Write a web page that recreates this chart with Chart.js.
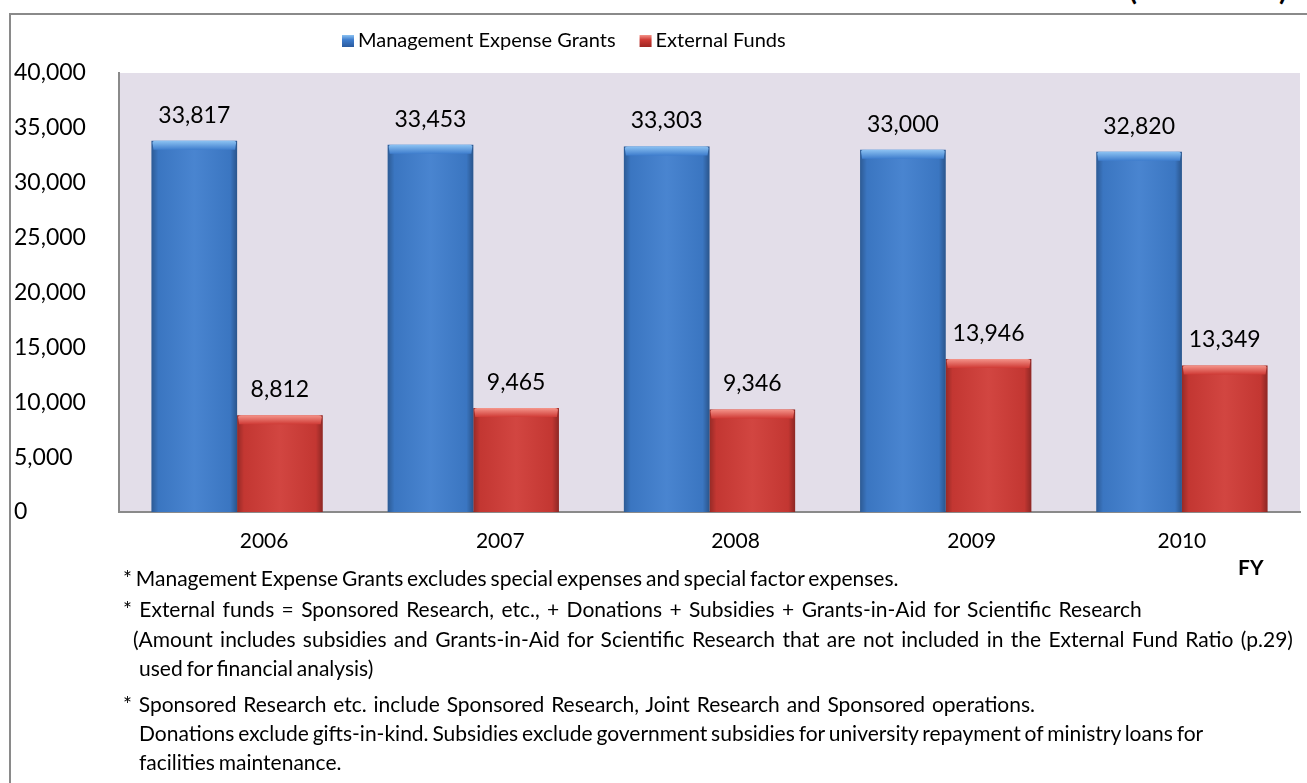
<!DOCTYPE html>
<html>
<head>
<meta charset="utf-8">
<script src="https://cdn.jsdelivr.net/npm/chart.js@4.4.1/dist/chart.umd.min.js"></script>
<style>
  html, body { margin: 0; padding: 0; background: #fff; width: 1307px; height: 783px; overflow: hidden; }
  #wrap { position: relative; width: 1307px; height: 783px; }
  #c { position: absolute; left: 0; top: 0; }
  .frameTop { position: absolute; left: 9px; top: 13px; width: 1298px; height: 2px; background: #8a8a8a; }
  .frameLeft { position: absolute; left: 9px; top: 13px; width: 2px; height: 770px; background: #8a8a8a; }
  .unit { position: absolute; right: 20px; top: -26px; font: bold 29px Lato, sans-serif; line-height: 30px; color: #000; }
  .note { position: absolute; font: 21px Lato, sans-serif; color: #000; white-space: nowrap; line-height: 1; }
  .fy { position: absolute; left: 1238px; top: 554px; font: bold 21px Lato, sans-serif; color: #000; }
</style>
</head>
<body>
<div id="wrap">
  <div class="unit">(Million Yen)</div>
  <div class="frameTop"></div>
  <div class="frameLeft"></div>
  <canvas id="c" width="1307" height="783"></canvas>
  <div class="fy">FY</div>
  <div class="note" data-right="812" style="left:123px; top:567px;">* Management Expense Grants excludes special expenses and special factor expenses.</div>
  <div class="note" data-right="1153" style="left:123px; top:598px;">* External funds = Sponsored Research, etc., + Donations + Subsidies + Grants-in-Aid for Scientific Research</div>
  <div class="note" data-right="1293" style="left:133px; top:628px;">(Amount includes subsidies and Grants-in-Aid for Scientific Research that are not included in the External Fund Ratio (p.29)</div>
  <div class="note" data-right="350" style="left:139px; top:657px;">used for financial analysis)</div>
  <div class="note" data-right="1035" style="left:123px; top:693px;">* Sponsored Research etc. include Sponsored Research, Joint Research and Sponsored operations.</div>
  <div class="note" data-right="1197" style="left:139px; top:722px;">Donations exclude gifts-in-kind. Subsidies exclude government subsidies for university repayment of ministry loans for</div>
  <div class="note" data-right="330" style="left:139px; top:751px;">facilities maintenance.</div>
</div>
<script>
// ---- data ----
const categories = ['2006', '2007', '2008', '2009', '2010'];
const managementExpenseGrants = [33817, 33453, 33303, 33000, 32820];
const externalFunds = [8812, 9465, 9346, 13946, 13349];
const seriesNames = ['Management Expense Grants', 'External Funds'];
const yMin = 0, yMax = 40000, yStep = 5000;

// ---- styles ----
const palette = [
  { base: '#3e7dcd', dark: '#2a5a9e', light: '#8cc2f2' },
  { base: '#cf3a35', dark: '#9e2622', light: '#f4948a' }
];
const FONT = 'Lato, "Open Sans", sans-serif';
const fmt = v => v.toLocaleString('en-US');

const plotBg = {
  id: 'plotBg',
  beforeDraw(chart) {
    const { ctx, chartArea: a } = chart;
    ctx.save();
    ctx.fillStyle = '#e3dee9';
    ctx.fillRect(a.left, a.top, a.right - a.left, a.bottom - a.top);
    ctx.restore();
  }
};

const barShade = {
  id: 'barShade',
  afterDatasetsDraw(chart) {
    const { ctx } = chart;
    chart.data.datasets.forEach((ds, di) => {
      const meta = chart.getDatasetMeta(di);
      const p = palette[di];
      meta.data.forEach(bar => {
        const l = bar.x - bar.width / 2, w = bar.width;
        const t = bar.y, h = bar.base - bar.y;
        ctx.save();
        const g = ctx.createLinearGradient(l, 0, l + w, 0);
        g.addColorStop(0, 'rgba(0,0,0,0.28)');
        g.addColorStop(0.08, 'rgba(0,0,0,0.06)');
        g.addColorStop(0.5, 'rgba(255,255,255,0.06)');
        g.addColorStop(0.92, 'rgba(0,0,0,0.06)');
        g.addColorStop(1, 'rgba(0,0,0,0.32)');
        ctx.fillStyle = g;
        ctx.fillRect(l, t, w, h);
        const capH = 9;
        const g2 = ctx.createLinearGradient(0, t, 0, t + capH);
        g2.addColorStop(0, p.light);
        g2.addColorStop(1, p.base);
        ctx.fillStyle = g2;
        ctx.beginPath();
        ctx.moveTo(l + 2, t + capH);
        ctx.lineTo(l + 1, t + 2);
        ctx.quadraticCurveTo(l + 1, t, l + 4, t);
        ctx.lineTo(l + w - 4, t);
        ctx.quadraticCurveTo(l + w - 1, t, l + w - 1, t + 2);
        ctx.lineTo(l + w - 2, t + capH);
        ctx.closePath();
        ctx.fill();
        ctx.restore();
      });
    });
  }
};

const valueLabels = {
  id: 'valueLabels',
  afterDatasetsDraw(chart) {
    const { ctx } = chart;
    ctx.save();
    ctx.font = '23px ' + FONT;
    ctx.fillStyle = '#000';
    ctx.textAlign = 'center';
    ctx.textBaseline = 'alphabetic';
    chart.data.datasets.forEach((ds, di) => {
      chart.getDatasetMeta(di).data.forEach((bar, i) => {
        ctx.fillText(fmt(ds.data[i]), bar.x, bar.y - 18);
      });
    });
    ctx.restore();
  }
};

// category labels (reference draws the first four slightly right of their group centres)
const xLabelShift = [27, 27, 26, 26, 0];
const xLabels = {
  id: 'xLabels',
  afterDraw(chart) {
    const { ctx } = chart;
    const xs = chart.scales.x;
    ctx.save();
    ctx.font = '21px ' + FONT;
    ctx.fillStyle = '#000';
    ctx.textAlign = 'center';
    ctx.textBaseline = 'middle';
    chart.data.labels.forEach((lab, i) => {
      ctx.fillText(lab, xs.getPixelForValue(i) + xLabelShift[i], chart.chartArea.bottom + 29);
    });
    ctx.restore();
  }
};

const legendPlugin = {
  id: 'customLegend',
  afterDraw(chart) {
    const { ctx } = chart;
    ctx.save();
    ctx.font = '20px ' + FONT;
    ctx.textBaseline = 'middle';
    ctx.textAlign = 'left';
    let x = 342;
    const yc = 41;
    chart.data.datasets.forEach((ds, di) => {
      const p = palette[di];
      const g = ctx.createLinearGradient(0, yc - 6, 0, yc + 6);
      g.addColorStop(0, p.light);
      g.addColorStop(0.4, p.base);
      g.addColorStop(1, p.dark);
      ctx.fillStyle = g;
      ctx.fillRect(x, yc - 6, 12, 12);
      ctx.fillStyle = '#000';
      ctx.fillText(ds.label, x + 16, yc);
      x += 16 + ctx.measureText(ds.label).width + 24;
    });
    ctx.restore();
  }
};

// gently nudge word spacing toward the reference line ends
function fitNotes() {
  document.querySelectorAll('.note').forEach(el => {
    const target = parseFloat(el.dataset.right) - el.offsetLeft;
    const w = el.getBoundingClientRect().width;
    const spaces = (el.textContent.match(/ /g) || []).length;
    if (w > 0 && spaces > 0) {
      let ws = (target - w) / spaces;
      ws = Math.max(-1.5, Math.min(2, ws));
      el.style.wordSpacing = ws.toFixed(2) + 'px';
    }
  });
}

function draw() {
  fitNotes();
  new Chart(document.getElementById('c'), {
    type: 'bar',
    data: {
      labels: categories,
      datasets: [
        { label: seriesNames[0], data: managementExpenseGrants, backgroundColor: palette[0].base },
        { label: seriesNames[1], data: externalFunds, backgroundColor: palette[1].base }
      ]
    },
    options: {
      responsive: false,
      animation: false,
      events: [],
      layout: { padding: { left: 14, right: 7, top: 73, bottom: 271 } },
      datasets: { bar: { barPercentage: 1.0, categoryPercentage: 0.725, borderWidth: 0 } },
      plugins: {
        legend: { display: false },
        tooltip: { enabled: false },
        title: { display: false }
      },
      scales: {
        x: {
          grid: { display: false },
          border: { display: true, color: '#8a8a8a', width: 2 },
          ticks: { display: false },
          afterFit(s) { s.height = 0; }
        },
        y: {
          min: yMin, max: yMax,
          grid: { display: false },
          border: { display: true, color: '#8a8a8a', width: 2 },
          ticks: {
            stepSize: yStep,
            crossAlign: 'far',
            padding: 6,
            color: '#000',
            font: { family: FONT, size: 23 },
            callback: v => fmt(v)
          },
          afterFit(s) { s.width = 105; }
        }
      }
    },
    plugins: [plotBg, barShade, valueLabels, xLabels, legendPlugin]
  });
}
if (document.fonts && document.fonts.ready) document.fonts.ready.then(draw); else draw();
</script>
</body>
</html>
